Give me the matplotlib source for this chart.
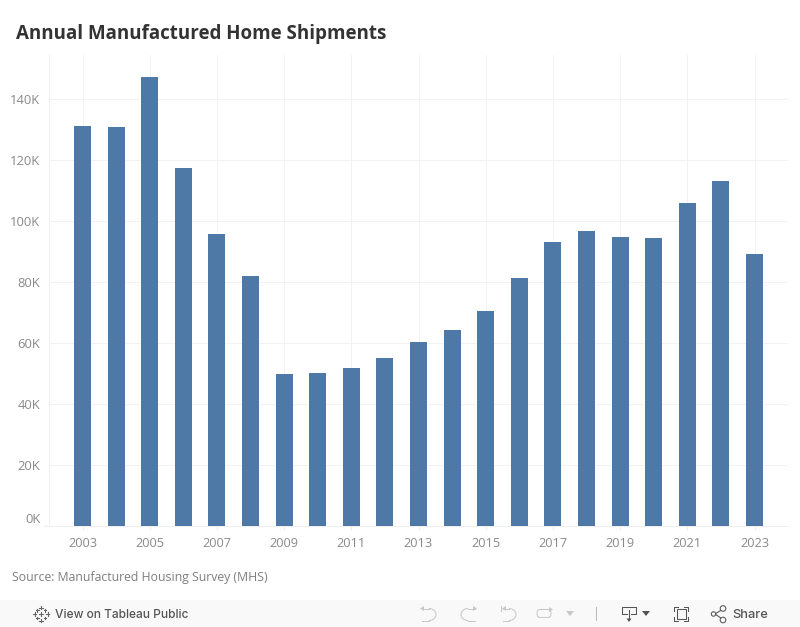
import numpy as np
import matplotlib
matplotlib.use("Agg")
import matplotlib.pyplot as plt
from matplotlib.patches import Rectangle, Circle, Polygon, Arc, FancyBboxPatch

years = list(range(2003, 2024))
shipments = [131.0, 130.7, 147.0, 117.4, 95.6, 81.9, 49.8, 50.0, 51.7, 55.0, 60.2,
             64.3, 70.5, 81.2, 93.0, 96.6, 94.7, 94.3, 105.8, 112.9, 89.2]
y_ticks = [0, 20, 40, 60, 80, 100, 120, 140]
x_ticks = list(range(2003, 2024, 2))
title = "Annual Manufactured Home Shipments"
source = "Source: Manufactured Housing Survey (MHS)"

W, H = 800, 627
plt.rcParams['font.family'] = ['Open Sans', 'DejaVu Sans']
fig = plt.figure(figsize=(W/100, H/100), dpi=100, facecolor='white')

L, R, T, B = 48.9, 788.1, 55, 526
ax = fig.add_axes([L/W, 1-B/H, (R-L)/W, (B-T)/H])
ax.set_xlim(2002, 2024)
ax.set_ylim(0, (B-T)/(427.5/140))
ax.bar(years, shipments, width=0.51, color='#4e79a7', zorder=3)
ax.set_xticks(x_ticks)
ax.set_yticks(y_ticks)
ax.set_xticklabels([str(y) for y in x_ticks])
ax.set_yticklabels([f"{v}K" for v in y_ticks])
ax.grid(True, color='#f2f2f2', lw=0.72, zorder=0)
ax.set_axisbelow(True)
for s in ['top', 'right']:
    ax.spines[s].set_visible(False)
ax.spines['left'].set_color('#f0f0f0')
ax.spines['left'].set_linewidth(0.72)
ax.spines['bottom'].set_color('#eeeeee')
ax.spines['bottom'].set_linewidth(0.72)
ax.tick_params(axis='x', length=3, width=0.72, color='#eeeeee', labelcolor='#8a8a8a', labelsize=9.2, pad=5)
ax.tick_params(axis='y', length=0, labelcolor='#8a8a8a', labelsize=9.4, pad=6)
ax.get_yticklabels()[0].set_va('bottom')

# overlay in pixel coordinates for page text and toolbar
ov = fig.add_axes([0, 0, 1, 1], facecolor='none')
ov.set_xlim(0, W); ov.set_ylim(H, 0); ov.axis('off')
ov.text(16, 33.5, title, fontsize=13.5, fontweight='bold', color='#333333', va='center', ha='left')
ov.text(12, 577, source, fontsize=8.83, color='#7f7f7f', va='center', ha='left')

# bottom toolbar
lw = 0.75
ov.add_patch(Rectangle((0, 600), W, 27, fc='#f9f9f9', ec='none'))
ov.plot([44, 49.5], [526, 526], color='#eeeeee', lw=lw)
ov.text(55, 615, "View on Tableau Public", fontsize=8.6, color='#555555', va='center', fontweight='medium',
        family=['Inter', 'DejaVu Sans'])
ov.text(732, 615, "Share", fontsize=9.3, color='#555555', va='center', fontweight='medium',
        family=['Inter', 'DejaVu Sans'])

# Tableau logo
c = '#666666'
for dx, dy, s in [(0, -6.5, 1.8), (0, 6.5, 1.8), (-6.5, 0, 1.8), (6.5, 0, 1.8), (0, 0, 2.2),
                  (-3.8, -3.8, 1.3), (3.8, -3.8, 1.3), (-3.8, 3.8, 1.3), (3.8, 3.8, 1.3)]:
    ov.plot([41+dx-s, 41+dx+s], [614+dy, 614+dy], color=c, lw=0.8)
    ov.plot([41+dx, 41+dx], [614+dy-s, 614+dy+s], color=c, lw=0.8)

g = '#c8c8c8'
# undo
ov.add_patch(Arc((429, 614.5), 14, 12, theta1=-90, theta2=90, color=g, lw=lw))
ov.plot([422, 429], [608.5, 608.5], color=g, lw=lw)
ov.plot([422, 429], [620.5, 620.5], color=g, lw=lw)
ov.add_patch(Polygon([[420, 608.5], [424, 606], [424, 611]], fc=g, ec='none'))
# redo
ov.add_patch(Arc((468, 614.5), 14, 12, theta1=90, theta2=270, color=g, lw=lw))
ov.plot([468, 475], [608.5, 608.5], color=g, lw=lw)
ov.plot([468, 475], [620.5, 620.5], color=g, lw=lw)
ov.add_patch(Polygon([[477, 608.5], [473, 606], [473, 611]], fc=g, ec='none'))
# revert
ov.add_patch(Arc((509, 614.5), 14, 12, theta1=-90, theta2=90, color=g, lw=lw))
ov.plot([503, 509], [608.5, 608.5], color=g, lw=lw)
ov.plot([503, 509], [620.5, 620.5], color=g, lw=lw)
ov.plot([501, 501], [606, 611], color=g, lw=lw)
ov.add_patch(Polygon([[502, 608.5], [506, 606], [506, 611]], fc=g, ec='none'))
# refresh
ov.add_patch(FancyBboxPatch((537, 609.5), 14, 8, boxstyle='round,pad=0,rounding_size=3.5', fc='none', ec=g, lw=lw))
ov.add_patch(Polygon([[549, 607], [549, 612], [553, 609.5]], fc=g, ec='none'))
ov.add_patch(Polygon([[566, 611], [574, 611], [570, 616]], fc=g, ec='none'))
# divider
ov.plot([595.5, 595.5], [607, 620], color='#bdbdbd', lw=lw)
# download
d = '#555555'
ov.plot([627, 622, 622, 636, 636, 631], [614, 614, 606.5, 606.5, 614, 614], color=d, lw=lw)
ov.plot([629, 629], [610, 620], color=d, lw=lw)
ov.add_patch(Polygon([[626.5, 618.5], [631.5, 618.5], [629, 622]], fc=d, ec='none'))
ov.add_patch(Polygon([[642, 611], [650, 611], [646, 616]], fc=d, ec='none'))
# fullscreen
for x0, x1 in [(674, 678), (688, 684)]:
    for y0, sy in [(606.5, 1), (621, -1)]:
        ov.plot([x1, x0, x0], [y0, y0, y0+sy*4], color=d, lw=lw)
ov.add_patch(Rectangle((676.5, 609), 9.5, 9.5, fc='none', ec=d, lw=lw))
# share
ov.plot([715, 723], [614, 609], color=d, lw=lw)
ov.plot([715, 723], [614, 619.5], color=d, lw=lw)
for cx, cy, r in [(713.5, 614, 2.2), (723, 608.5, 2.8), (723, 620, 2.8)]:
    ov.add_patch(Circle((cx, cy), r, fc='#f9f9f9', ec=d, lw=lw, zorder=4))

fig.savefig("out.png", dpi=100, facecolor='white')
